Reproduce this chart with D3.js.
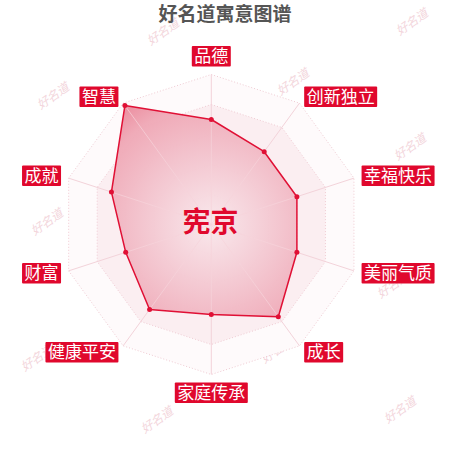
<!DOCTYPE html>
<html lang="zh-cn">
<head>
<meta charset="UTF-8">
<title>好名道寓意图谱</title>
<script src="https://d3js.org/d3.v7.min.js"></script>
<style>
    body { margin: 0; padding: 0; background: #fff; }
    svg { display: block; font-family: "Noto Sans CJK SC", "Noto Sans", sans-serif; }
</style>
</head>
<body>
<svg id="chart" width="450" height="450"></svg>
<script>
// 维度 (从顶部顺时针)
const indicators = ["品德", "创新独立", "幸福快乐", "美丽气质", "成长", "家庭传承", "健康平安", "财富", "成就", "智慧"];
const scores = [70, 60, 60, 60, 76, 60, 70, 60, 70, 98];
const maxScore = 100;
const ringLevels = [20, 40, 60, 80, 100];
const nameText = "宪京";
const titleText = "好名道寓意图谱";

const svg = d3.select("#chart");
const cx = 211.3, cy = 224.5, R = 150;
const n = indicators.length;

const r = d3.scaleLinear().domain([0, maxScore]).range([0, R]);
const angle = d3.scaleLinear().domain([0, n]).range([0, 2 * Math.PI]);
const pt = (i, v) => [cx + r(v) * Math.sin(angle(i)), cy - r(v) * Math.cos(angle(i))];

const defs = svg.append("defs");
const areaGrad = defs.append("radialGradient")
    .attr("id", "areaGrad").attr("gradientUnits", "userSpaceOnUse")
    .attr("cx", cx).attr("cy", cy).attr("r", R);
areaGrad.append("stop").attr("offset", "0").attr("stop-color", "#f9e8ec");
areaGrad.append("stop").attr("offset", "0.45").attr("stop-color", "#f3c4ce");
areaGrad.append("stop").attr("offset", "0.8").attr("stop-color", "#efa7b5");
areaGrad.append("stop").attr("offset", "1").attr("stop-color", "#ea8497");

// 水印
const marks = [[163, 32], [412, 22], [293, 82], [53, 96], [410, 147], [47, 222], [302, 210],
    [393, 285], [37, 358], [277, 350], [157, 420], [400, 410]];
svg.append("g").selectAll("text").data(marks).join("text")
    .attr("transform", d => `translate(${d[0]},${d[1]}) rotate(-35)`)
    .attr("text-anchor", "middle").attr("dy", "0.35em")
    .attr("font-size", 12).attr("fill", "#f3d6dc")
    .attr("font-style", "italic")
    .text("好名道");

// 分隔区域
const ringPath = v => d3.range(n).map(i => pt(i, v));
const line = d3.line().curve(d3.curveLinearClosed);
const areaFills = ["#fcf1f3", "#fcf1f4", "#fcf0f3", "#fbeef1", "#fefafb"];
const grid = svg.append("g");
ringLevels.slice().reverse().forEach((v, k) => {
    grid.append("path").attr("d", line(ringPath(v)))
        .attr("fill", areaFills[ringLevels.length - 1 - k]);
});
grid.selectAll(".ring").data(ringLevels).join("path")
    .attr("class", "ring")
    .attr("d", v => line(ringPath(v)))
    .attr("fill", "none").attr("stroke", "#f0cbd3")
    .attr("stroke-width", 1).attr("stroke-dasharray", "1,2");
grid.selectAll(".axis").data(indicators).join("line")
    .attr("class", "axis")
    .attr("x1", cx).attr("y1", cy)
    .attr("x2", (d, i) => pt(i, maxScore)[0])
    .attr("y2", (d, i) => pt(i, maxScore)[1])
    .attr("stroke", "#f3d3da").attr("stroke-width", 1);

// 数据区域
const pts = scores.map((v, i) => pt(i, v));
svg.append("path").attr("d", line(pts))
    .attr("fill", "url(#areaGrad)").attr("fill-opacity", 0.95)
    .attr("stroke", "#e01035").attr("stroke-width", 1.5)
    .attr("stroke-linejoin", "round");
svg.append("g").selectAll("line").data(indicators).join("line")
    .attr("x1", cx).attr("y1", cy)
    .attr("x2", (d, i) => pt(i, scores[i])[0])
    .attr("y2", (d, i) => pt(i, scores[i])[1])
    .attr("stroke", "#f6d4db").attr("stroke-width", 1).attr("stroke-opacity", 0.7);
svg.append("g").selectAll("circle").data(pts).join("circle")
    .attr("cx", d => d[0]).attr("cy", d => d[1]).attr("r", 2.5)
    .attr("fill", "#e01035");

// 维度标签
const labelR = R + 8, boxH = 20.5, fs = 17;
const lab = svg.append("g").selectAll("g").data(indicators).join("g");
lab.each(function (d, i) {
    const g = d3.select(this);
    const a = angle(i);
    const x = cx + labelR * Math.sin(a), y = cy - labelR * Math.cos(a);
    const w = d.length * fs + 5;
    let bx, by;
    if (Math.abs(Math.sin(a)) < 0.01) {
        bx = x - w / 2;
        by = Math.cos(a) > 0 ? y - boxH : y;
    } else {
        bx = Math.sin(a) > 0 ? x : x - w;
        by = y - boxH / 2;
    }
    g.append("rect").attr("x", bx).attr("y", by).attr("width", w).attr("height", boxH)
        .attr("fill", "#e0082d").attr("rx", 1);
    g.append("text").attr("x", bx + w / 2).attr("y", by + boxH / 2)
        .attr("text-anchor", "middle").attr("dy", "0.36em")
        .attr("font-size", fs).attr("fill", "#fff").text(d);
});

// 名字
svg.append("text").attr("x", 210.5).attr("y", 221.5)
    .attr("text-anchor", "middle").attr("dy", "0.36em")
    .attr("font-size", 28).attr("font-weight", "bold").attr("fill", "#e0082d")
    .text(nameText);

// 标题
svg.append("text").attr("x", 225).attr("y", 14)
    .attr("text-anchor", "middle").attr("dy", "0.36em")
    .attr("font-size", 19).attr("font-weight", "bold").attr("fill", "#555")
    .text(titleText);
</script>
</body>
</html>
